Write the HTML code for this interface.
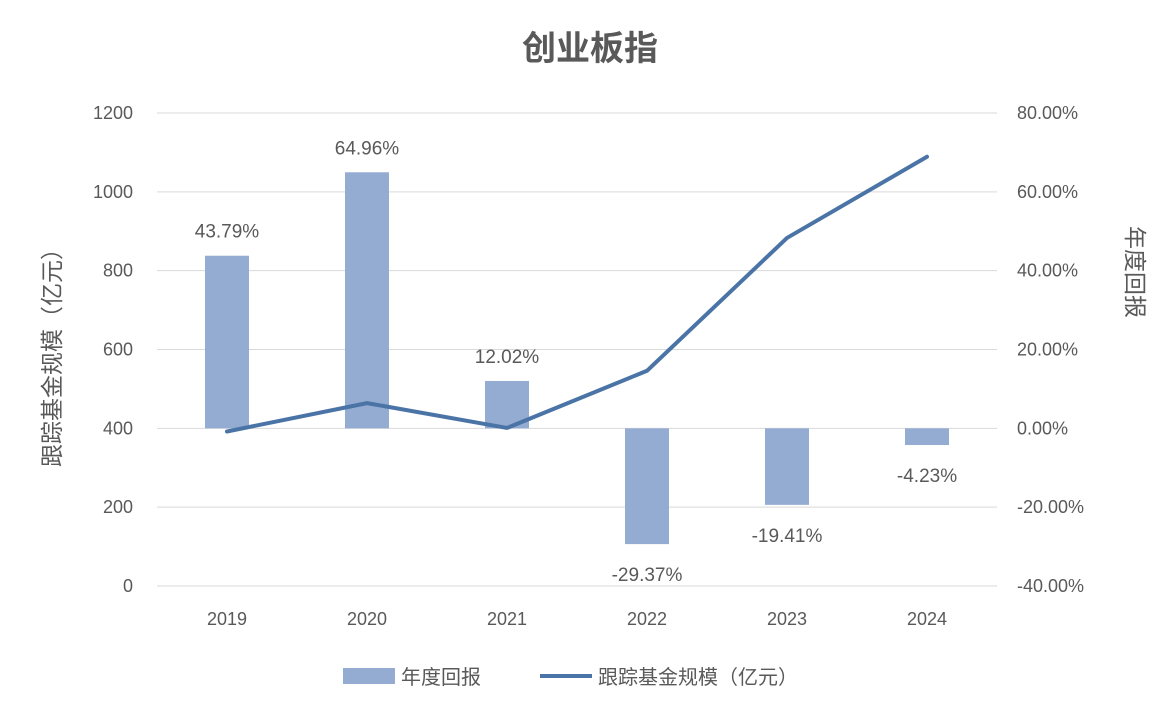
<!DOCTYPE html>
<html><head><meta charset="utf-8"><style>
html,body{margin:0;padding:0;background:#fff;}
svg text{font-family:"Liberation Sans","Noto Sans CJK SC",sans-serif;fill:#595959;}
</style></head><body>
<svg id="chart" width="1176" height="703" xmlns="http://www.w3.org/2000/svg">
<text x="590" y="60" text-anchor="middle" font-size="34" font-weight="bold">创业板指</text>
<g id="grid"></g><g id="bars"></g><g id="line"></g><g id="labels"></g>
<text transform="translate(60,352) rotate(-90)" text-anchor="middle" font-size="23">跟踪基金规模（亿元）</text>
<text transform="translate(1127,272) rotate(90)" text-anchor="middle" font-size="23">年度回报</text>
<g>
<rect x="343" y="668" width="52" height="16" fill="#94abd2"/>
<text x="401" y="684" font-size="20">年度回报</text>
<line x1="540" y1="676" x2="592" y2="676" stroke="#4a74a6" stroke-width="4"/>
<text x="598" y="684" font-size="20">跟踪基金规模（亿元）</text>
</g>
</svg>
<script>
const categories=["2019","2020","2021","2022","2023","2024"];
const returns=[43.79,64.96,12.02,-29.37,-19.41,-4.23];
const scale=[392,464,401,546,883,1089];
const leftTicks=[0,200,400,600,800,1000,1200];
const rightTicks=[-40,-20,0,20,40,60,80];
const NS="http://www.w3.org/2000/svg";
const x0=157,step=140,yTop=113,yBot=586;
const xc=i=>x0+step*(i+0.5);
const yL=v=>yBot-(v/1200)*(yBot-yTop);
const yR=v=>yBot-((v+40)/120)*(yBot-yTop);
function mk(t,a,p){const e=document.createElementNS(NS,t);for(const k in a)e.setAttribute(k,a[k]);p.appendChild(e);return e;}
const grid=document.getElementById('grid');
leftTicks.forEach((v,i)=>{
 const l=mk('line',{x1:x0,x2:x0+step*6,y1:yL(v),y2:yL(v),stroke:'#d9d9d9','stroke-width':1},grid);
 
 
 const t=mk('text',{x:133,y:yL(v)+6,'text-anchor':'end','font-size':18},grid);t.textContent=v;
 
 
});
rightTicks.forEach(v=>{
 const t=mk('text',{x:1017,y:yR(v)+6,'font-size':18},grid);t.textContent=v.toFixed(2)+'%';
 
 
});
categories.forEach((c,i)=>{
 const t=mk('text',{x:xc(i),y:625,'text-anchor':'middle','font-size':18},grid);t.textContent=c;
 
 
});
const bars=document.getElementById('bars'),labels=document.getElementById('labels');
returns.forEach((v,i)=>{
 const y0=yR(0),y1=yR(v);
 const r=mk('rect',{x:xc(i)-22,y:Math.min(y0,y1),width:44,height:Math.abs(y1-y0),fill:'#94abd2'},bars);
 
 
 const ty=v>=0?y1-18:y1+37;
 const t=mk('text',{x:xc(i),y:ty,'text-anchor':'middle','font-size':19},labels);t.textContent=v.toFixed(2)+'%';
 
 
});
const pts=scale.map((v,i)=>xc(i)+','+yL(v)).join(' ');
const pl=mk('polyline',{points:pts,fill:'none',stroke:'#4a74a6','stroke-width':4,'stroke-linejoin':'round','stroke-linecap':'round'},document.getElementById('line'));


</script>
</body></html>
